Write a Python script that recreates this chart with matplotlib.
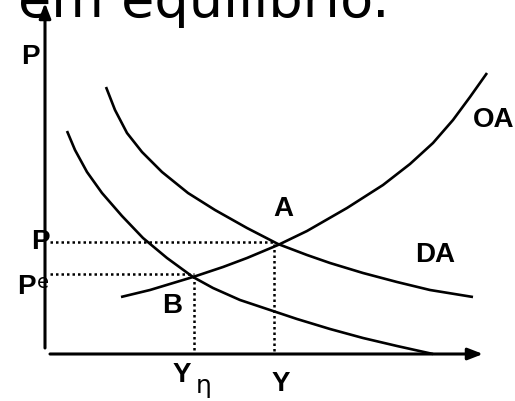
import matplotlib.pyplot as plt
from matplotlib.patches import Rectangle

# curve points (pixel coords, y down)
oa_x = [121, 150, 193, 223, 247, 278, 307, 347, 383, 410, 433, 453, 470, 487]
oa_y = [297, 290, 277, 267, 258, 245, 231, 208, 185, 164, 143, 120, 97, 73]

da1_x = [106, 115, 127, 142, 162, 188, 215, 247, 278, 307, 330, 363, 397, 430, 473]
da1_y = [87, 110, 133, 152, 172, 193, 210, 228, 244, 255, 263, 273, 282, 290, 297]

da2_x = [67, 75, 87, 102, 122, 143, 167, 193, 213, 240, 270, 297, 330, 363, 397, 433]
da2_y = [131, 150, 172, 193, 216, 238, 258, 277, 288, 300, 310, 319, 329, 338, 346, 354]

# equilibrium points
point_a = (275, 242)
point_b = (194, 274)
x_axis_y = 354
y_axis_x = 45

title = "em equilíbrio."

fig = plt.figure(figsize=(5.15, 4.01), dpi=100)
ax = fig.add_axes([0, 0, 1, 1])
ax.set_xlim(0, 515)
ax.set_ylim(401, 0)
ax.axis('off')

# axes with arrows
ax.annotate('', xy=(y_axis_x, 3), xytext=(y_axis_x, 348),
            arrowprops=dict(arrowstyle='-|>,head_length=0.9,head_width=0.35', color='black', lw=2.2,
                            shrinkA=0, shrinkB=0))
ax.annotate('', xy=(483, x_axis_y), xytext=(50, x_axis_y),
            arrowprops=dict(arrowstyle='-|>,head_length=0.9,head_width=0.35', color='black', lw=2.2,
                            shrinkA=0, shrinkB=0))

# curves
for xs, ys in [(oa_x, oa_y), (da1_x, da1_y), (da2_x, da2_y)]:
    ax.plot(xs, ys, color='black', lw=1.9, solid_capstyle='butt', solid_joinstyle='round')

# dotted guides
dot = dict(color='black', lw=1.8, linestyle=(0, (1, 1.2)))
ax.plot([50, point_a[0]], [point_a[1], point_a[1]], **dot)
ax.plot([point_a[0] - 1, point_a[0] - 1], [point_a[1] + 2, x_axis_y], **dot)
ax.plot([50, point_b[0]], [point_b[1], point_b[1]], **dot)
ax.plot([point_b[0], point_b[0]], [point_b[1] + 2, x_axis_y], **dot)

# labels
bold = dict(fontfamily='Liberation Sans', fontweight='bold', fontsize=20, color='black')
ax.text(30, 57, 'P', ha='center', va='center', **bold)
ax.text(473, 120, 'OA', ha='left', va='center', **bold)
ax.text(283, 209, 'A', ha='center', va='center', **bold)
ax.text(435, 255, 'DA', ha='center', va='center', **bold)
ax.text(40, 242, 'P', ha='center', va='center', **bold)
ax.text(26, 287, 'P', ha='center', va='center', **bold)
ax.text(37, 288, 'e', ha='left', va='baseline', fontfamily='DejaVu Sans', fontsize=14)
ax.text(172, 306, 'B', ha='center', va='center', **bold)
ax.text(182, 375, 'Y', ha='center', va='center', **bold)
ax.text(196, 393, 'η', ha='left', va='baseline', fontfamily='DejaVu Sans', fontsize=18)
ax.text(281, 384, 'Y', ha='center', va='center', **bold)

# title line is cut by the picture edges, only its lower half shows
t = ax.text(18, 17, title, ha='left', va='baseline', fontfamily='DejaVu Sans', fontsize=39)
t.set_clip_path(Rectangle((0, 0), 515, 17, transform=ax.transData))

fig.savefig('out.png', dpi=100)
